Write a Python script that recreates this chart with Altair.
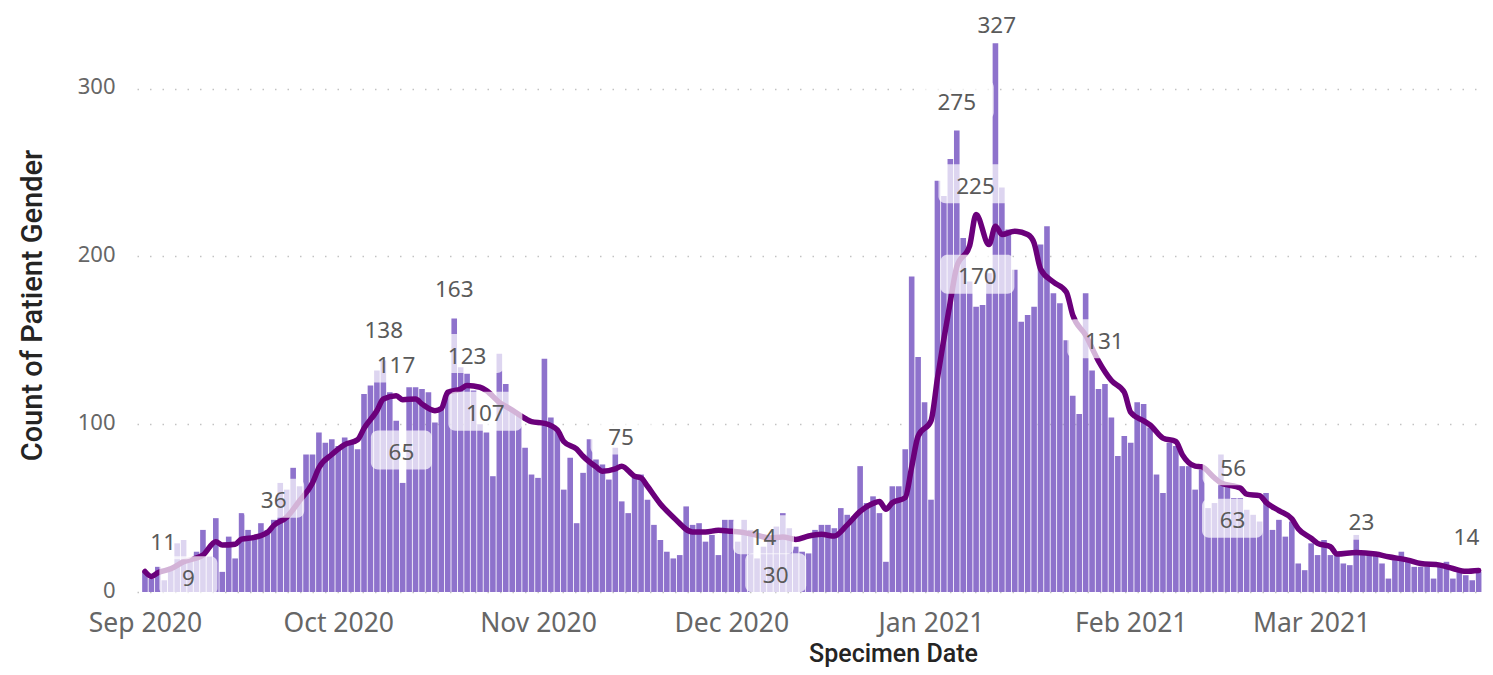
import altair as alt
import pandas as pd

START = "2020-09-01"

# Daily counts, one list per month
counts_sep = [12, 8, 15, 7, 15, 29, 31, 19, 24, 37, 21, 44, 12, 33, 20, 47, 37, 34, 41, 37,
              43, 65, 61, 74, 63, 82, 82, 95, 89, 91]
counts_oct = [87, 92, 90, 85, 118, 123, 132, 138, 119, 102, 65, 122, 122, 121, 119, 101, 110, 118,
              163, 134, 130, 120, 100, 95, 69, 142, 124, 108, 106, 86, 70]
counts_nov = [68, 139, 104, 96, 61, 80, 41, 71, 91, 79, 76, 67, 86, 54, 47, 69, 70, 55, 40, 31,
              24, 20, 22, 51, 40, 41, 30, 34, 22, 43]
counts_dec = [43, 30, 43, 37, 20, 27, 33, 39, 47, 38, 27, 24, 23, 37, 40, 40, 38, 50, 46, 45,
              75, 53, 57, 47, 18, 63, 63, 85, 188, 140, 113]
counts_jan = [55, 245, 236, 258, 275, 211, 185, 170, 171, 190, 327, 241, 216, 192, 161, 165, 170,
              207, 218, 178, 172, 150, 117, 106, 178, 132, 121, 124, 104, 81, 93]
counts_feb = [89, 113, 112, 98, 70, 59, 89, 87, 75, 75, 61, 73, 50, 53, 82, 64, 56, 56, 49, 46,
              42, 59, 37, 43, 33, 42, 17, 13]
counts_mar = [29, 22, 31, 22, 22, 17, 16, 34, 22, 22, 22, 17, 8, 19, 24, 18, 15, 15, 15, 8,
              15, 18, 8, 12, 10, 7, 12]

# Moving-average line: days after 1 Sep 2020 and value
avg_day = [0, 1, 2, 4, 6, 9, 11, 12, 14, 15, 17, 19, 20, 22, 24, 26, 27, 29, 31, 33, 34, 36, 37,
           39, 40, 42, 43, 45, 46, 47, 49, 50, 52, 53, 55, 57, 59, 60, 62, 64, 65, 67, 68, 70,
           71, 73, 74, 76, 77, 78, 80, 82, 85, 87, 89, 91, 93, 95, 97, 99, 101, 103, 105, 107,
           109, 111, 113, 114, 115, 116, 118, 119, 120, 122, 123, 125, 126, 128, 129, 131, 132,
           133, 135, 137, 138, 139, 141, 143, 144, 146, 148, 150, 152, 153, 155, 156, 158, 160,
           161, 163, 164, 166, 167, 170, 171, 173, 174, 176, 178, 179, 181, 182, 184, 185, 188,
           191, 193, 196, 198, 201, 203, 205, 207]
avg_val = [12.2, 9.3, 11.5, 13.8, 18, 22, 30, 28, 28.5, 31.5, 32.6, 35.4, 39.7, 44.6, 54.4, 65,
           74, 81.9, 87.8, 90.7, 97.5, 108, 115, 117, 114.6, 115, 112, 108, 109.3, 119, 121, 123,
           122, 120, 113, 108.4, 103.4, 101.5, 100.5, 96.6, 89.7, 85.2, 80.9, 74.6, 72, 73.4, 75,
           69, 68, 63, 52.5, 44.6, 35.8, 35.8, 36.8, 36.2, 35.4, 33.8, 32.2, 32.8, 31.3, 33.4,
           34.4, 33.3, 40, 48, 52.8, 53.9, 49.3, 53.2, 56.2, 74.5, 92.9, 102, 127.3, 173, 193.8,
           206.4, 225, 207, 218, 213, 215, 213, 208, 192.5, 184.7, 178.8, 165, 153, 137.6, 126,
           119, 107, 102, 99.5, 91.7, 89.7, 81.9, 75, 74.6, 68, 65, 62, 58.3, 57.4, 53.4, 48.5,
           43.6, 37.7, 32, 29, 27, 22.6, 23.6, 22.6, 21, 19, 17, 16, 14, 12.3, 12.8]

# Data labels: text, position (days after 1 Sep 2020) and height (count units)
label_text = ["11", "9", "36", "138", "117", "65", "163", "123", "107", "75", "14", "30",
              "275", "225", "170", "327", "131", "56", "63", "23", "14"]
label_day = [2.83, 6.74, 19.98, 37.06, 38.97, 39.8, 48.0, 50.0, 52.83, 73.9, 96.0, 97.9,
             126.0, 128.9, 129.2, 132.2, 148.9, 168.9, 168.8, 188.8, 205.1]
label_pos = [29.4, 7.9, 54.1, 155.6, 134.7, 82.9, 179.7, 140.3, 105.9, 91.8, 32.4, 9.7,
             291.5, 241.5, 187.6, 337.0, 149.1, 73.5, 42.1, 40.9, 32.4]

month_ticks = [(2020, 9), (2020, 10), (2020, 11), (2020, 12), (2021, 1), (2021, 2), (2021, 3)]
y_ticks = [0, 100, 200, 300]


def to_iso(day):
    return (pd.Timestamp(START) + pd.Timedelta(days=day)).strftime("%Y-%m-%dT%H:%M:%SZ")


counts = counts_sep + counts_oct + counts_nov + counts_dec + counts_jan + counts_feb + counts_mar
bars_df = pd.DataFrame({"date": [to_iso(i) for i in range(len(counts))], "v": counts})
line_df = pd.DataFrame({"date": [to_iso(d) for d in avg_day], "v": avg_val})
lab_df = pd.DataFrame({"date": [to_iso(d) for d in label_day], "v": label_pos, "text": label_text})
lab_df["n"] = lab_df["text"].str.len()

x_scale = alt.Scale(
    type="utc",
    domain=[alt.DateTime(year=2020, month=8, date=31, hours=13, utc=True),
            alt.DateTime(year=2021, month=3, date=27, hours=5, utc=True)],
)
y_scale = alt.Scale(domain=[0, 348], nice=False)

x_axis = alt.Axis(
    values=[alt.DateTime(year=y, month=m, date=1, utc=True) for (y, m) in month_ticks],
    labelExpr="utcFormat(datum.value, '%b %Y')",
    labelFont="Noto Sans", labelFontSize=26.5, labelColor="#666666", labelPadding=18,
    labelOverlap=False, labelFlush=False, labelBound=False,
    domain=False, ticks=False, grid=False,
    title="Specimen Date", titleFont="Roboto", titleFontSize=25, titleFontWeight=500,
    titleColor="#252423", titleX=756, titleY=61, titleAlign="center", titleBaseline="middle",
)
y_axis = alt.Axis(
    values=y_ticks,
    labelFont="Noto Sans", labelFontSize=22, labelColor="#666666", labelPadding=22,
    labelOffset=-2,
    domain=False, ticks=False,
    grid=True, gridColor="#C3C3C3", gridDash=[1.5, 11], gridWidth=1.5,
    title="Count of Patient Gender", titleFont="Roboto", titleFontSize=29, titleFontWeight=500,
    titleColor="#252423", titleX=-105, titleY=297, titleAngle=-90, titleAlign="center",
    titleBaseline="middle",
)

X = alt.X("date:T", scale=x_scale, axis=x_axis)
Y = alt.Y("v:Q", scale=y_scale, axis=y_axis)

bars = alt.Chart(bars_df).mark_bar(size=5.6, color="#8E72CC").encode(x=X, y=Y)

line = alt.Chart(line_df).mark_line(
    color="#6B007B", strokeWidth=5.5, interpolate="monotone", strokeCap="round", strokeJoin="round"
).encode(x=X, y=Y)

box_widths = {1: 58, 2: 61, 3: 74}
boxes = []
for n, w in box_widths.items():
    boxes.append(
        alt.Chart(lab_df).mark_rect(
            fill="white", fillOpacity=0.7, cornerRadius=7,
            xOffset=-w / 2, x2Offset=w / 2, yOffset=-22.5, y2Offset=16.5,
        ).encode(x=X, x2=alt.X2("date"), y=Y, y2=alt.Y2("v")).transform_filter(alt.datum.n == n)
    )

texts = alt.Chart(lab_df).mark_text(
    font="Noto Sans", fontSize=22.5, color="#5A5A5A", align="center", baseline="middle"
).encode(x=X, y=Y, text="text:N")

chart = alt.layer(bars, line, *boxes, texts).properties(
    width=1348, height=584,
    autosize=alt.AutoSizeParams(type="none"),
    padding={"left": 129, "top": 0, "right": 0, "bottom": 75},
    background="white",
).configure_view(stroke=None)

chart.save("out.html", embed_options={"renderer": "svg", "actions": False})
